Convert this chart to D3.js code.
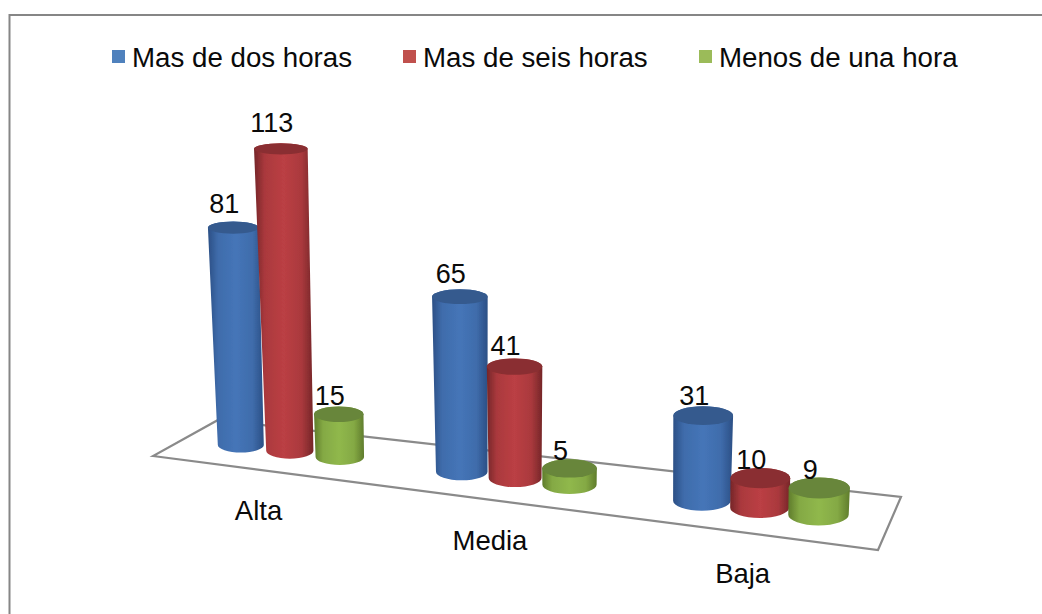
<!DOCTYPE html>
<html><head><meta charset="utf-8">
<script src="https://cdn.jsdelivr.net/npm/d3@7"></script>
<style>html,body{margin:0;padding:0;background:#fff}svg{display:block}text{font-family:"Liberation Sans",Arial,sans-serif;fill:#0a0a0a}</style>
</head><body><svg id="c" width="1042" height="614"></svg>
<script>
const categories = ["Alta", "Media", "Baja"];
const seriesNames = ["Mas de dos horas", "Mas de seis horas", "Menos de una hora"];
const masDeDos = [81, 65, 31];
const masDeSeis = [113, 41, 10];
const menosDeUna = [15, 5, 9];
const seriesValues = [masDeDos, masDeSeis, menosDeUna];
const legendColors = ["#4f81bd", "#c0504d", "#9bbb59"];
const sideColors = [["#2b4f85", "#4575b8"], ["#752628", "#bb3f44"], ["#5f7c2c", "#90b84c"]];
const topColors = ["#355a8e", "#8a2f30", "#67863a"];

const W = 1042, H = 614;
const svg = d3.select("#c");
const defs = svg.append("defs");
defs.append("filter").attr("id", "soft").attr("x", "-10%").attr("y", "-10%").attr("width", "120%").attr("height", "120%")
  .append("feGaussianBlur").attr("stdDeviation", 0.6);

// floor plane homography, unit square -> screen
const q = { a: [153, 456], b: [878, 550], c: [901, 497], d: [218, 420] };
function homography(p0, p1, p2, p3) {
  const dx1 = p1[0] - p2[0], dx2 = p3[0] - p2[0], sx = p0[0] - p1[0] + p2[0] - p3[0];
  const dy1 = p1[1] - p2[1], dy2 = p3[1] - p2[1], sy = p0[1] - p1[1] + p2[1] - p3[1];
  const den = dx1 * dy2 - dx2 * dy1;
  const g = (sx * dy2 - dx2 * sy) / den, h = (dx1 * sy - sx * dy1) / den;
  const a = p1[0] - p0[0] + g * p1[0], b = p3[0] - p0[0] + h * p3[0], c = p0[0];
  const d = p1[1] - p0[1] + g * p1[1], e = p3[1] - p0[1] + h * p3[1], f = p0[1];
  return (u, v) => { const w = g * u + h * v + 1; return [(a * u + b * v + c) / w, (d * u + e * v + f) / w]; };
}
const floor = homography(q.a, q.b, q.c, q.d);

// scales: categories and series laid out in bar-width slots, then onto the floor
const catSlot = d3.scalePoint().domain(categories).range([0, 8.72]);
const slotToU = s => 0.096 + 0.0841 * s - 0.00069 * s * s;
const uOf = (ci, si) => slotToU(catSlot(categories[ci]) + si);
const uMid = ci => slotToU(catSlot(categories[ci]) + 1);
const hScale = d3.scaleLinear().domain([0, 113]).range([3, 302]);
const widthScale = d3.scaleLinear().domain([241, 800]).range([46, 60]);
const tiltScale = d3.scaleLinear().domain([150, 490]).range([0.21, 0.345]);
const DEPTH = 0.5;

// frame
svg.append("path").attr("d", d3.line()([[9.5, H], [9.5, 15], [W, 15]]))
  .attr("fill", "none").attr("stroke", "#868686").attr("stroke-width", 2);

// floor
svg.append("path").attr("d", d3.line().curve(d3.curveLinearClosed)([q.a, q.b, q.c, q.d]))
  .attr("fill", "none").attr("stroke", "#8a8a8a").attr("stroke-width", 2.2).attr("filter", "url(#soft)");

// legend
const legendItems = [112, 403, 699];
const lg = svg.append("g");
seriesNames.forEach((name, i) => {
  lg.append("rect").attr("x", legendItems[i]).attr("y", 50).attr("width", 13).attr("height", 13).attr("fill", legendColors[i]);
  lg.append("text").attr("x", legendItems[i] + 20).attr("y", 67).attr("font-size", 27.7).text(name);
});

// gradients
sideColors.forEach((c, i) => {
  const g = defs.append("linearGradient").attr("id", "side" + i).attr("x1", 0).attr("x2", 1).attr("y1", 0).attr("y2", 0);
  [[0, c[0]], [0.18, d3.interpolateRgb(c[0], c[1])(0.75)], [0.5, c[1]], [0.8, d3.interpolateRgb(c[0], c[1])(0.75)], [1, c[0]]]
    .forEach(s => g.append("stop").attr("offset", s[0]).attr("stop-color", s[1]));
});

// bars
const bars = svg.append("g").attr("filter", "url(#soft)");
const labels = [];
categories.forEach((cat, ci) => {
  seriesValues.forEach((vals, si) => {
    const v = vals[ci], h = hScale(v);
    const [bx, by0] = floor(uOf(ci, si), DEPTH);
    const by = by0 + 1;
    const rb = widthScale(bx) / 2;
    const tx = bx + (bx - 560) * h * 1.1e-4, ty = by - h;
    const rt = rb * (1 + h * 4.5e-4);
    const ryb = rb * tiltScale(by), ryt = rt * tiltScale(ty);
    const p = `M${tx - rt},${ty} A${rt},${ryt} 0 0 1 ${tx + rt},${ty} L${bx + rb},${by} A${rb},${ryb} 0 0 1 ${bx - rb},${by} Z`;
    bars.append("path").attr("d", p).attr("fill", `url(#side${si})`);
    bars.append("ellipse").attr("cx", tx).attr("cy", ty).attr("rx", rt).attr("ry", ryt).attr("fill", topColors[si]);
    labels.push({ x: tx - 9, y: ty - 8 - h * 0.03, t: v });
  });
});

// value labels
svg.append("g").selectAll("text").data(labels).join("text")
  .attr("x", d => d.x).attr("y", d => d.y).attr("text-anchor", "middle").attr("font-size", 27).text(d => d.t);

// category labels
svg.append("g").selectAll("text").data(categories).join("text")
  .attr("x", (d, i) => floor(uMid(i), 0)[0]).attr("y", (d, i) => floor(uMid(i), 0)[1] + 50.5)
  .attr("text-anchor", "middle").attr("font-size", 27.5).text(d => d);
</script></body></html>
